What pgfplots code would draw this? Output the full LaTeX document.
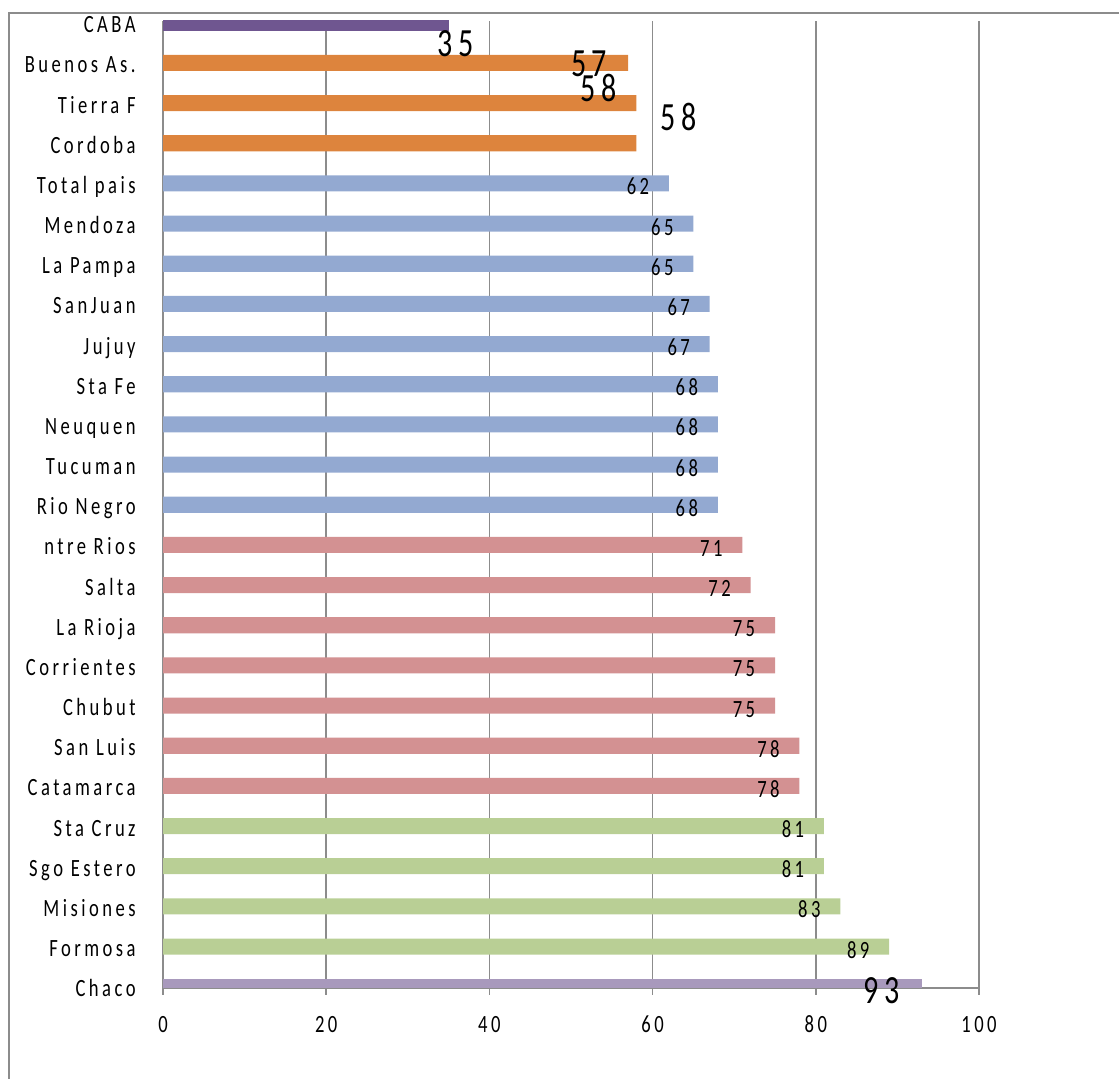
\documentclass[border=0pt]{standalone}
\usepackage{pgfplots}
\pgfplotsset{compat=1.18}
\usepackage{pgfplotstable}
\usepackage{fontspec}
\setmainfont{Carlito}[FakeStretch=0.75, LetterSpace=14]

\definecolor{cPurple}{HTML}{6F5690}
\definecolor{cOrange}{HTML}{DD843D}
\definecolor{cBlue}{HTML}{93A9D1}
\definecolor{cPink}{HTML}{D39192}
\definecolor{cGreen}{HTML}{B9CF95}
\definecolor{cLav}{HTML}{A899BC}
\definecolor{axisgray}{HTML}{8C8C8C}

\newcommand{\labelfont}{\fontsize{12.4}{14}\selectfont}
\newcommand{\bigfont}{\fontsize{20}{22}\selectfont}

% pos = row (0 = bottom), val = percentage, dx/dy = label offset in pt
\pgfplotstableread{
pos val dx dy
0 93 -20 -8.5
}\tabChaco
\pgfplotstableread{
pos val dx dy
1 89 -15.5 -5.75
2 83 -15.5 -5.75
3 81 -15.5 -5.75
4 81 -15.5 -5.75
}\tabGreen
\pgfplotstableread{
pos val dx dy
5 78 -15.5 -5.75
6 78 -15.5 -5.75
7 75 -15.5 -5.75
8 75 -15.5 -5.75
9 75 -15.5 -5.75
10 72 -15.5 -5.75
11 71 -15.5 -5.75
}\tabPink
\pgfplotstableread{
pos val dx dy
12 68 -15.5 -5.75
13 68 -15.5 -5.75
14 68 -15.5 -5.75
15 68 -15.5 -5.75
16 67 -15.5 -5.75
17 67 -15.5 -5.75
18 65 -15.5 -5.75
19 65 -15.5 -5.75
20 62 -15.5 -5.75
}\tabBlue
\pgfplotstableread{
pos val dx dy
21 58 21 6.5
22 58 -19 1
23 57 -19.5 -7
}\tabOrange
\pgfplotstableread{
pos val dx dy
24 35 3.5 -17
}\tabPurple

\pgfplotsset{
  barlabels/.style={
    nodes near coords,
    point meta=x,
    visualization depends on=\thisrow{dx}\as\dx,
    visualization depends on=\thisrow{dy}\as\dy,
    nodes near coords style={anchor=base, inner sep=0pt, text=black,
      xshift=\dx pt, yshift=\dy pt, font=\labelfont},
  },
  biglabels/.style={barlabels, nodes near coords style={font=\bigfont}},
}

\begin{document}
\begin{tikzpicture}[x=1pt,y=1pt]
\useasboundingbox (0,0) rectangle (559.5,539.5);
\clip (0,0) rectangle (559.5,539.5);
% outer chart frame
\draw[axisgray, line width=1.3pt] (4.5,-20) -- (4.5,533) -- (590,533);
\begin{axis}[
  at={(81.5pt,45.5pt)}, anchor=south west,
  scale only axis, width=408pt, height=483.5pt,
  xbar, bar width=0.4, bar shift=0pt,
  xmin=0, xmax=100, ymin=-0.032, ymax=24.045,
  xtick={0,20,...,100},
  ytick={0,...,24},
  yticklabels={Chaco, Formosa, Misiones, Sgo Estero, Sta Cruz, Catamarca,
    San Luis, Chubut, Corrientes\hspace{2.5pt}, La Rioja, Salta\hspace{3.5pt},
    ntre Rios, Rio Negro, Tucuman\hspace{2pt}, Neuquen, Sta Fe, Jujuy,
    SanJuan, La Pampa, Mendoza, Total pais, Cordoba, Tierra F,
    Buenos As., CABA},
  axis x line*=bottom, axis y line*=left,
  xtick pos=lower, ytick pos=left,
  x axis line style={draw=axisgray, line width=1.1pt},
  y axis line style={draw=axisgray, line width=0.6pt},
  xmajorgrids, grid style={draw=axisgray, line width=0.8pt},
  xtick align=outside, major tick length=3.5pt,
  x tick style={draw=axisgray, line width=0.8pt},
  y tick style={draw=none},
  /pgf/number format/assume math mode=true,
  tick label style={font=\labelfont},
  xticklabel style={anchor=base, inner sep=0pt},
  xticklabel shift=19pt,
  yticklabel style={anchor=base east, inner sep=0pt, yshift=-5pt},
  yticklabel shift=10pt,
  clip=true,
]
\addplot[fill=cLav, draw=none, biglabels] table[x=val, y=pos] {\tabChaco};
\addplot[fill=cGreen, draw=none, barlabels] table[x=val, y=pos] {\tabGreen};
\addplot[fill=cPink, draw=none, barlabels] table[x=val, y=pos] {\tabPink};
\addplot[fill=cBlue, draw=none, barlabels] table[x=val, y=pos] {\tabBlue};
\addplot[fill=cOrange, draw=none, biglabels] table[x=val, y=pos] {\tabOrange};
\addplot[fill=cPurple, draw=none, biglabels] table[x=val, y=pos] {\tabPurple};
\end{axis}
\end{tikzpicture}
\end{document}
